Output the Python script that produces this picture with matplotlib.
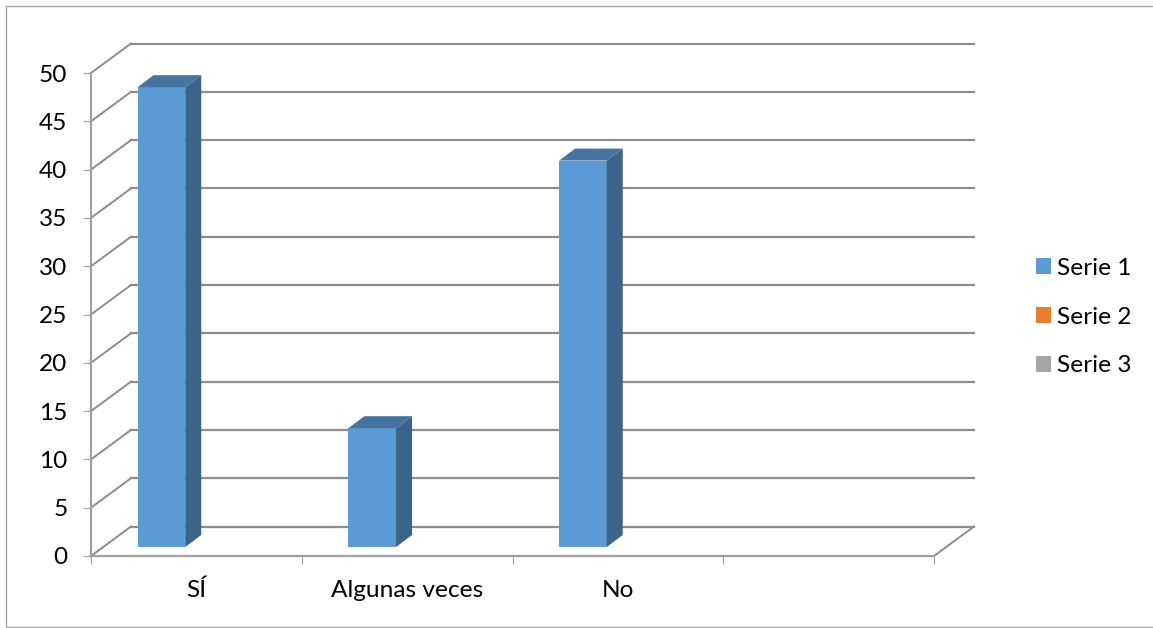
import matplotlib
matplotlib.use('Agg')
import matplotlib.pyplot as plt
from matplotlib.lines import Line2D
from matplotlib.patches import Patch, Polygon
from matplotlib.transforms import Affine2D

plt.rcParams['font.family'] = ['Lato', 'DejaVu Sans']

categories = ['SÍ', 'Algunas veces', 'No']
serie_1 = [47.6, 12.3, 40]
series_names = ['Serie 1', 'Serie 2', 'Serie 3']
series_colors = ['#5B9BD5', '#ED7D31', '#A5A5A5']
y_ticks = [0, 5, 10, 15, 20, 25, 30, 35, 40, 45, 50]

W, H = 1153, 628
GRID = '#8C8C8C'
TEXT_SIZE = 17.6

fig = plt.figure(figsize=(W / 100, H / 100), dpi=100)
ax = fig.add_axes([91 / W, 1 - 556 / H, (934 - 91) / W, (556 - 73) / H])
ax.set_xlim(0, 4)
ax.set_ylim(0, 50)
ax.patch.set_visible(False)


# oblique projection: shift in pixels from the front plane
def shifted(dx, dy):
    return ax.transData + Affine2D().translate(dx, dy)


BACK_DX, BACK_DY = 40, 29.5
BACK = shifted(BACK_DX, BACK_DY)
BAR_FRONT = shifted(12.7, 9)
BAR_BACK = shifted(28.7, 21)

# back wall gridlines and floor edges
for v in y_ticks:
    ax.plot([0, 4], [v, v], transform=BACK, color=GRID, lw=1.6, clip_on=False, zorder=1)
    # wall diagonal, front corner to back corner
    x0, y0 = ax.transData.transform((0, v))
    ax.add_line(Line2D([x0, x0 + BACK_DX], [y0, y0 + BACK_DY], transform=None, color=GRID,
                       lw=1.4, clip_on=False, zorder=1))
x0, y0 = ax.transData.transform((4, 0))
ax.add_line(Line2D([x0, x0 + BACK_DX], [y0, y0 + BACK_DY], transform=None, color=GRID,
                   lw=1.4, clip_on=False, zorder=1))

# 3D bars, first slot of each three-series cluster
bar_w = 0.226
for i, val in enumerate(serie_1):
    left = i + 0.5 - 1.5 * bar_w
    right = left + bar_w
    ax.bar(left, val, width=bar_w, align='edge', color='#5B9BD5', transform=BAR_FRONT,
           clip_on=False, zorder=3)
    p_fl = BAR_FRONT.transform((left, val))
    p_fr = BAR_FRONT.transform((right, val))
    p_br = BAR_BACK.transform((right, val))
    p_bl = BAR_BACK.transform((left, val))
    p_fb = BAR_FRONT.transform((right, 0))
    p_bb = BAR_BACK.transform((right, 0))
    ax.add_patch(Polygon([p_fl, p_fr, p_br, p_bl], closed=True, transform=None,
                         facecolor='#4674A0', edgecolor='none', zorder=3))
    ax.add_patch(Polygon([p_fr, p_br, p_bb, p_fb], closed=True, transform=None,
                         facecolor='#3B6489', edgecolor='none', zorder=3))

for side in ['top', 'right']:
    ax.spines[side].set_visible(False)
for side in ['left', 'bottom']:
    ax.spines[side].set_color('#A0A0A0')
    ax.spines[side].set_linewidth(1.6)

ax.set_yticks(y_ticks)
ax.set_xticks([0, 1, 2, 3, 4])
ax.set_xticklabels([])
ax.set_xticks([i + 0.5 for i in range(len(categories))], minor=True)
ax.set_xticklabels(categories, minor=True, fontsize=TEXT_SIZE, color='black')
ax.tick_params(axis='x', which='major', length=6, width=0.8, color='#A0A0A0')
ax.tick_params(axis='x', which='minor', length=0, pad=17)
ax.tick_params(axis='y', length=6, width=0.8, color='#A0A0A0', labelsize=TEXT_SIZE, pad=11)

handles = [Patch(facecolor=c, edgecolor='none') for c in series_colors]
fig.legend(handles, series_names, loc='upper left', bbox_to_anchor=(1036 / W, 1 - 258 / H),
           frameon=False, fontsize=TEXT_SIZE, handlelength=0.62, handleheight=0.62,
           handletextpad=0.25, labelspacing=1.13, borderpad=0, borderaxespad=0)

# chart area frame, open on the right
frame_x = [1, 5.5 / W, 5.5 / W, 1]
frame_y = [1 - 5.5 / H, 1 - 5.5 / H, 1 - 627 / H, 1 - 627 / H]
fig.add_artist(Line2D(frame_x, frame_y, color='#A6A6A6', lw=1.0))

fig.savefig('out.png', dpi=100)
